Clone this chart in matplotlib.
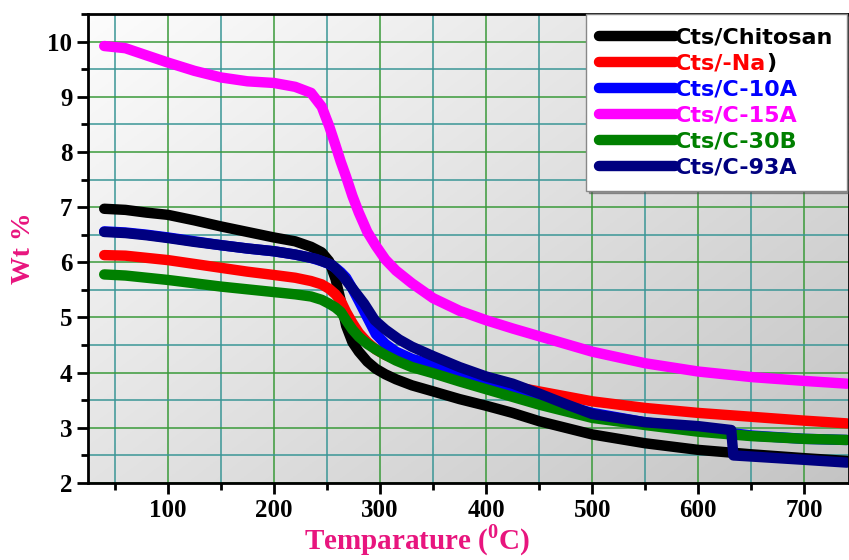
import numpy as np
import matplotlib
matplotlib.use("Agg")
import matplotlib.pyplot as plt
from matplotlib.ticker import MultipleLocator

plt.rcParams['mathtext.fontset'] = 'custom'
plt.rcParams['mathtext.rm'] = 'Liberation Serif:bold'
plt.rcParams['mathtext.bf'] = 'Liberation Serif:bold'

# temperature grid (deg C) shared by most curves
temp = [40, 60, 80, 100, 125, 150, 175, 200, 220, 235, 245, 252, 258, 263, 268,
        274, 280, 288, 296, 305, 315, 330, 350, 375, 400, 425, 450, 475, 500,
        550, 600, 650, 700, 740]

chitosan = [6.97, 6.95, 6.90, 6.86, 6.76, 6.65, 6.55, 6.45, 6.38, 6.28, 6.18,
            6.02, 5.70, 5.30, 4.85, 4.55, 4.38, 4.20, 4.07, 3.97, 3.88, 3.77,
            3.66, 3.52, 3.40, 3.27, 3.12, 3.00, 2.88, 2.72, 2.60, 2.52, 2.45, 2.40]
na = [6.13, 6.12, 6.08, 6.04, 5.97, 5.90, 5.83, 5.77, 5.72, 5.66, 5.60, 5.52,
      5.42, 5.30, 5.10, 4.90, 4.72, 4.55, 4.42, 4.32, 4.25, 4.18, 4.08, 3.97,
      3.86, 3.75, 3.66, 3.57, 3.48, 3.36, 3.27, 3.20, 3.13, 3.08]
c10a = [6.56, 6.54, 6.50, 6.45, 6.38, 6.31, 6.25, 6.20, 6.14, 6.08, 6.02, 5.97,
        5.90, 5.82, 5.72, 5.52, 5.30, 5.00, 4.70, 4.52, 4.38, 4.25, 4.14, 4.00,
        3.87, 3.72, 3.55, 3.40, 3.27, 3.10, 2.98, 2.86, 2.80, 2.78]
c15a = [9.92, 9.88, 9.75, 9.62, 9.47, 9.35, 9.28, 9.25, 9.18, 9.07, 8.82, 8.47,
        8.12, 7.82, 7.55, 7.20, 6.90, 6.55, 6.30, 6.05, 5.85, 5.62, 5.35, 5.12,
        4.95, 4.80, 4.66, 4.52, 4.38, 4.17, 4.02, 3.92, 3.85, 3.80]
c30b = [5.78, 5.76, 5.72, 5.68, 5.62, 5.56, 5.51, 5.46, 5.42, 5.38, 5.32, 5.25,
        5.18, 5.10, 4.95, 4.78, 4.65, 4.52, 4.42, 4.32, 4.22, 4.10, 3.99, 3.84,
        3.70, 3.56, 3.42, 3.30, 3.18, 3.05, 2.93, 2.85, 2.80, 2.78]

# C-93A has a step near 632 C so it gets its own grid
temp_93a = [40, 60, 80, 100, 125, 150, 175, 200, 220, 240, 255, 265, 275, 285,
            295, 305, 318, 330, 350, 375, 400, 425, 450, 475, 500, 550, 600,
            631, 633, 650, 700, 740]
c93a = [6.55, 6.53, 6.49, 6.44, 6.37, 6.31, 6.25, 6.20, 6.14, 6.06, 5.95, 5.75,
        5.50, 5.25, 4.95, 4.78, 4.60, 4.47, 4.30, 4.10, 3.93, 3.80, 3.62, 3.43,
        3.25, 3.10, 3.03, 2.96, 2.50, 2.48, 2.42, 2.37]

labels = ["Cts/Chitosan", "Cts/-Na", "Cts/C-10A", "Cts/C-15A", "Cts/C-30B", "Cts/C-93A"]
colors = ["black", "#ff0000", "#0000ff", "#ff00ff", "#008000", "#000080"]
label_pink = "#e8157e"

fig = plt.figure(figsize=(8.49, 5.6), dpi=100)
ax = fig.add_axes([0.104, 0.1375, 0.896, 0.8375])

# grey gradient background, light top-left to darker bottom-right
gx, gy = np.meshgrid(np.linspace(0, 1, 200), np.linspace(0, 1, 200))
shade = 0.99 - 0.12 * gx - 0.10 * gy
rgb = np.dstack([shade, shade, shade])
ax.imshow(rgb, extent=[0, 1, 0, 1], transform=ax.transAxes,
          aspect="auto", zorder=0, origin="upper")

series = [(temp, chitosan), (temp, na), (temp, c10a), (temp, c15a),
          (temp, c30b), (temp_93a, c93a)]
for (t, w), lab, c in zip(series, labels, colors):
    ax.plot(t, w, color=c, lw=7.5, label=lab, solid_capstyle="round",
            solid_joinstyle="round", zorder=3)

ax.set_xlim(25, 742)
ax.set_ylim(2, 10.5)
ax.xaxis.set_major_locator(MultipleLocator(100))
ax.xaxis.set_minor_locator(MultipleLocator(50))
ax.yaxis.set_major_locator(MultipleLocator(1))
ax.yaxis.set_minor_locator(MultipleLocator(0.5))
ax.grid(which="major", color="#3a9a3a", lw=1.1, zorder=1)
ax.grid(which="minor", color="#3a9696", lw=1.1, zorder=1)
ax.set_axisbelow(True)

ax.tick_params(which="major", direction="out", length=8, width=2)
ax.tick_params(which="minor", direction="out", length=5, width=2)
for sp in ax.spines.values():
    sp.set_linewidth(2)
    sp.set_zorder(5)

ax.set_xticks([100, 200, 300, 400, 500, 600, 700])
for lab in ax.get_xticklabels() + ax.get_yticklabels():
    lab.set_fontfamily("Liberation Serif")
    lab.set_fontweight("bold")
    lab.set_fontsize(18)

ax.set_xlabel(r"Temparature ($^{0}$C)", fontfamily="Liberation Serif",
              fontweight="bold", fontsize=21, color=label_pink)
ax.xaxis.set_label_coords(0.432, -0.085)
ax.set_ylabel("Wt %", fontfamily="Liberation Serif", fontweight="bold",
              fontsize=20, color=label_pink, labelpad=8)

legfont = {"family": "DejaVu Sans", "weight": "bold", "size": 16}
leg = ax.legend(loc="upper right", bbox_to_anchor=(0.997, 1.0), borderaxespad=0,
                prop=legfont, handlelength=3.4, handletextpad=0.0,
                labelspacing=0.27, fancybox=False, shadow=True, framealpha=1,
                edgecolor="#888888", borderpad=0.6)
leg.set_zorder(10)
for txt, c in zip(leg.get_texts(), colors):
    txt.set_color(c)
# the closing bracket after "-Na" is black in the original
ax.annotate(")", xy=(1, 0), xycoords=leg.get_texts()[1], ha="left", va="bottom",
            color="black", fontproperties=leg.get_texts()[1].get_fontproperties(),
            zorder=11, annotation_clip=False)

fig.savefig("out.png", dpi=100)
